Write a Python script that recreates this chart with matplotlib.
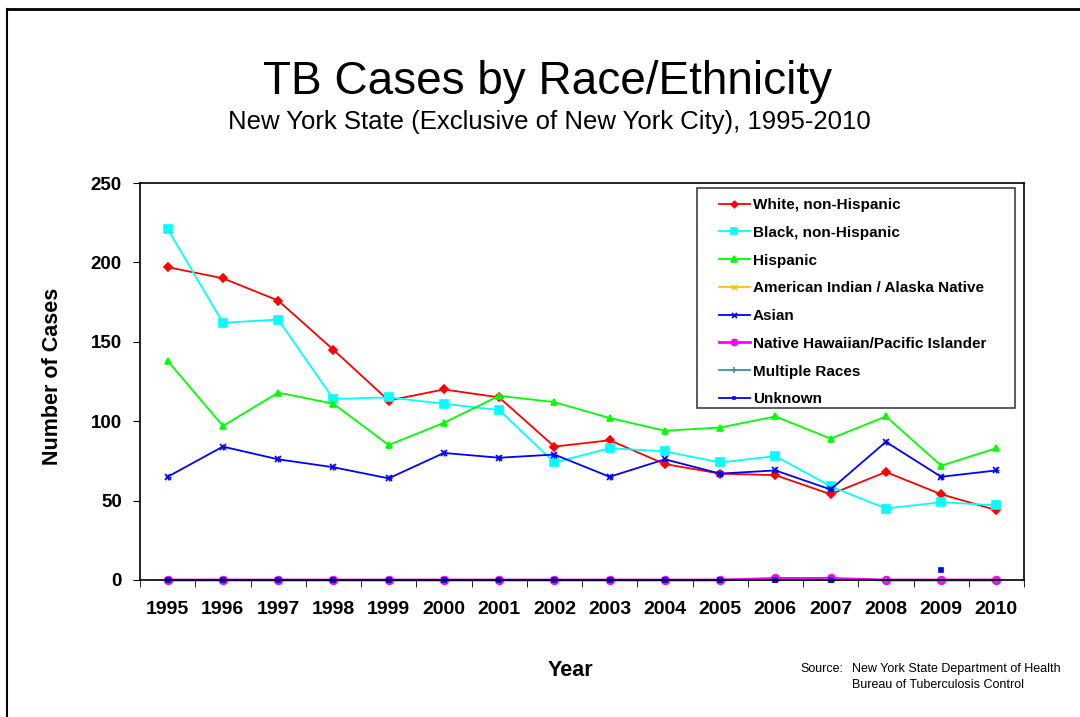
import matplotlib
matplotlib.use("Agg")
import matplotlib.pyplot as plt
from matplotlib.lines import Line2D
from matplotlib.patches import Rectangle
import numpy as np

plt.rcParams['font.family'] = ['Liberation Sans', 'DejaVu Sans']

years = [1995, 1996, 1997, 1998, 1999, 2000, 2001, 2002,
         2003, 2004, 2005, 2006, 2007, 2008, 2009, 2010]

white = [197, 190, 176, 145, 113, 120, 115, 84, 88, 73, 67, 66, 54, 68, 54, 44]
black = [221, 162, 164, 114, 115, 111, 107, 74, 83, 81, 74, 78, 59, 45, 49, 47]
hispanic = [138, 97, 118, 111, 85, 99, 116, 112, 102, 94, 96, 103, 89, 103, 72, 83]
am_indian = [0, 0, 0, 0, 0, 0, 0, 0, 0, 0, 0, 0, 0, 0, 0, 0]
asian = [65, 84, 76, 71, 64, 80, 77, 79, 65, 76, 67, 69, 57, 87, 65, 69]
hawaiian = [0, 0, 0, 0, 0, 0, 0, 0, 0, 0, 0, 1, 1, 0, 0, 0]
multiple = [0, 0, 0, 0, 0, 0, 0, 0, 0, 0, 0, 0, 0, 0, 0, 0]
unknown = [0, 0, 0, 0, 0, 0, 0, 0, 0, 0, 0, 0, 0, np.nan, 6, np.nan]

series = [
    ("White, non-Hispanic", white, "#FF0000", "D", 4),
    ("Black, non-Hispanic", black, "#00FFFF", "s", 5.5),
    ("Hispanic", hispanic, "#00FF00", "^", 5),
    ("American Indian / Alaska Native", am_indian, "#FFC000", "x", 4.5),
    ("Asian", asian, "#0000FF", "x", 4.5),
    ("Native Hawaiian/Pacific Islander", hawaiian, "#FF00FF", "o", 5.5),
    ("Multiple Races", multiple, "#339999", "+", 5),
    ("Unknown", unknown, "#0000FF", "s", 2.5),
]

fig = plt.figure(figsize=(10.8, 7.17), dpi=100)
ax = fig.add_axes([140 / 1080, 1 - 580 / 717, 884 / 1080, 397 / 717])

x = np.arange(len(years))
for name, vals, col, mk, ms in series:
    lw = 2.0 if name.startswith("Native") else 1.3
    ax.plot(x, vals, color=col, marker=mk, markersize=ms, linewidth=lw,
            markeredgewidth=1.2, label=name, clip_on=False)
    if name == "Asian":
        # asterisk look: overlay a plus on the x
        ax.plot(x, vals, color=col, marker="+", markersize=4.5, linewidth=0,
                markeredgewidth=1.0, clip_on=False)

ax.set_xlim(-0.5, len(years) - 0.5)
ax.set_ylim(0, 250)
ax.set_yticks(range(0, 251, 50))
ax.set_xticks(x)
ax.set_xticklabels([str(y) for y in years])
ax.set_xticks(np.arange(-0.5, len(years), 1), minor=True)
ax.tick_params(axis='x', which='major', length=0, pad=15, labelsize=14)
ax.tick_params(axis='x', which='minor', length=5, direction='out')
ax.tick_params(axis='y', length=5, direction='out', labelsize=13.5, pad=8)
for lab in ax.get_xticklabels() + ax.get_yticklabels():
    lab.set_fontweight('bold')
for sp in ax.spines.values():
    sp.set_linewidth(1.2)
    sp.set_color('black')

# legend box drawn separately so the padding matches
ax.add_patch(Rectangle((0.630, 0.433), 0.3598, 0.554, transform=ax.transAxes,
                       facecolor='white', edgecolor='#404040', linewidth=1.2,
                       zorder=4, clip_on=False))
leg = ax.legend(loc='upper left', bbox_to_anchor=(0.655, 0.962),
                prop={'weight': 'bold', 'size': 11}, frameon=False,
                labelspacing=0.9, handlelength=2.0, handletextpad=0.2,
                borderpad=0, markerscale=0.8, borderaxespad=0)
leg.set_zorder(5)

fig.text(548 / 1080, 1 - 82 / 717, "TB Cases by Race/Ethnicity", ha='center', va='center',
         fontsize=33)
fig.text(549 / 1080, 1 - 122 / 717, "New York State (Exclusive of New York City), 1995-2010",
         ha='center', va='center', fontsize=18.5)
fig.text(53 / 1080, 1 - 376 / 717, "Number of Cases", ha='center', va='center',
         rotation=90, fontsize=15.5, fontweight='bold')
fig.text(570 / 1080, 1 - 671 / 717, "Year", ha='center', va='center',
         fontsize=15.5, fontweight='bold')
fig.text(800 / 1080, 1 - 669 / 717, "Source:", ha='left', va='center', fontsize=9)
fig.text(852 / 1080, 1 - 669 / 717, "New York State Department of Health",
         ha='left', va='center', fontsize=9)
fig.text(852 / 1080, 1 - 685 / 717, "Bureau of Tuberculosis Control",
         ha='left', va='center', fontsize=9)

# slide border
fig.add_artist(Line2D([7 / 1080, 1.0], [1 - 9 / 717, 1 - 9 / 717], color='black',
                      linewidth=2, transform=fig.transFigure))
fig.add_artist(Line2D([7 / 1080, 7 / 1080], [0, 1 - 9 / 717], color='black',
                      linewidth=1.5, transform=fig.transFigure))

fig.savefig("out.png", dpi=100)
